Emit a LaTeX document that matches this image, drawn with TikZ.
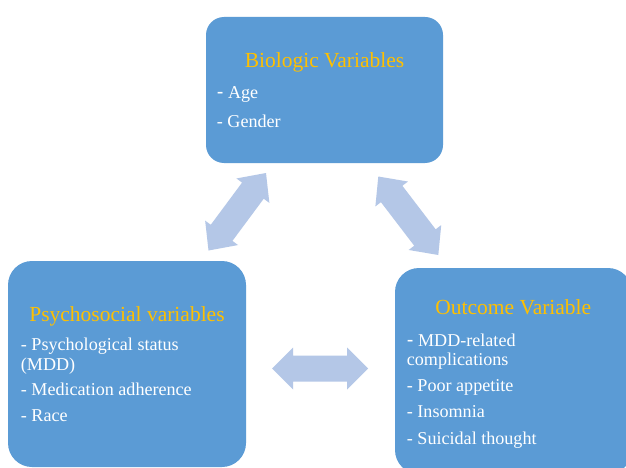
\documentclass[tikz,border=0pt]{standalone}
\usepackage{fontspec}
\setmainfont{Liberation Serif}
\newfontfamily\dashfont{Liberation Sans}
\usetikzlibrary{calc}
\definecolor{boxblue}{HTML}{5B9BD5}
\definecolor{titlegold}{HTML}{FFC000}
\definecolor{arrowblue}{HTML}{B4C7E7}
\newcommand\dblarrow[5]{%
  \fill[arrowfill] (#1)
   -- ($(#1)!#3!(#2)!#4!90:(#2)$)
   -- ($(#1)!#3!(#2)!#5!90:(#2)$)
   -- ($(#2)!#3!(#1)!#5!-90:(#1)$)
   -- ($(#2)!#3!(#1)!#4!-90:(#1)$)
   -- (#2)
   -- ($(#2)!#3!(#1)!#4!90:(#1)$)
   -- ($(#2)!#3!(#1)!#5!90:(#1)$)
   -- ($(#1)!#3!(#2)!#5!-90:(#2)$)
   -- ($(#1)!#3!(#2)!#4!-90:(#2)$)
   -- cycle;}
\newcommand\bigdash{{\dashfont\fontsize{20}{20}\selectfont -}}
\tikzset{
  varbox/.style={fill=boxblue, draw=none, rounded corners=#1, inner sep=0pt},
  varbox/.default=20pt,
  vartitle/.style={text=titlegold, font=\fontsize{21.5}{24}\selectfont, anchor=base, inner sep=0pt},
  varitem/.style={text=white, font=\fontsize{18.1}{20}\selectfont, anchor=base west, inner sep=0pt},
  arrowfill/.style={fill=arrowblue, draw=none}
}
\begin{document}
\begin{tikzpicture}[x=1pt,y=-1pt]
\useasboundingbox (0,0) rectangle (626,468);
\fill[white] (0,0) rectangle (626,468);
% boxes
\node[varbox=18pt, minimum width=237pt, minimum height=146pt] (bio) at (324.5,90) {};
\node[varbox=24pt, minimum width=238pt, minimum height=206pt] (psy) at (127,364) {};
\node[varbox=24pt, minimum width=237pt, minimum height=206pt] (out) at (513.5,371) {};
% biologic
\node[vartitle] (biot) at (324.5,67.3) {Biologic Variables};
\node[varitem] (bio1) at (216.7,98.3) {\bigdash\ Age};
\node[varitem] (bio2) at (216.7,127.3) {- Gender};
% psychosocial
\node[vartitle] (psyt) at (127,321.7) {Psychosocial variables};
\node[varitem] (psy1) at (20.7,350) {- Psychological status};
\node[varitem] (psy1b) at (20.7,370) {(MDD)};
\node[varitem] (psy2) at (20.7,395.7) {- Medication adherence};
\node[varitem] (psy3) at (20.7,421.7) {- Race};
% outcome
\node[vartitle] (outt) at (513.3,314.3) {Outcome Variable};
\node[varitem] (out1) at (406.7,346) {\bigdash\ MDD-related};
\node[varitem] (out1b) at (406.7,365) {complications};
\node[varitem] (out2) at (406.7,391) {- Poor appetite};
\node[varitem] (out3) at (406.7,417.7) {- Insomnia};
\node[varitem] (out4) at (406.7,444) {- Suicidal thought};
% arrows
\coordinate (a1s) at (208.5,250.5);
\coordinate (a1e) at (266,173);
\coordinate (a2s) at (378.3,176.5);
\coordinate (a2e) at (438.3,255);
\coordinate (a3s) at (272,368.5);
\coordinate (a3e) at (368,368.5);
\dblarrow{a1s}{a1e}{22pt}{20.5pt}{13.5pt}
\dblarrow{a2s}{a2e}{22pt}{20.5pt}{13.5pt}
\dblarrow{a3s}{a3e}{21pt}{21pt}{13pt}
\end{tikzpicture}
\end{document}
